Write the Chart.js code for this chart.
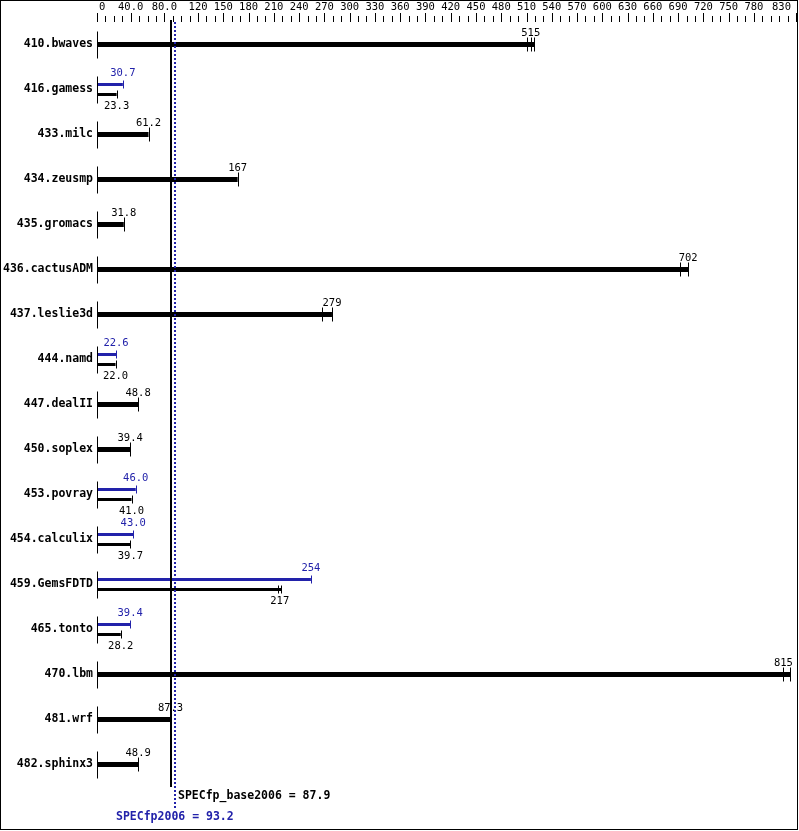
<!DOCTYPE html>
<html>
<head>
<meta charset="utf-8">
<script src="https://cdn.jsdelivr.net/npm/chart.js@4.4.1/dist/chart.umd.min.js"></script>
<style>
  html, body { margin: 0; padding: 0; background: #fff; }
  #wrap { width: 799px; height: 831px; }
</style>
</head>
<body>
<div id="wrap"><canvas id="grafica" width="799" height="831"></canvas></div>
<script>
// Datos
const benchmarks = ['410.bwaves', '416.gamess', '433.milc', '434.zeusmp', '435.gromacs',
  '436.cactusADM', '437.leslie3d', '444.namd', '447.dealII', '450.soplex', '453.povray',
  '454.calculix', '459.GemsFDTD', '465.tonto', '470.lbm', '481.wrf', '482.sphinx3'];
const baseValues = [515, 23.3, 61.2, 167, 31.8, 702, 279, 22.0, 48.8, 39.4, 41.0, 39.7, 217, 28.2, 815, 87.3, 48.9];
const peakValues = [515, 30.7, 61.2, 167, 31.8, 702, 279, 22.6, 48.8, 39.4, 46.0, 43.0, 254, 39.4, 815, 87.3, 48.9];
// marcas de cada ejecución (extremos de la barra)
const baseRuns = [[511, 515, 519], [23.3], [61.2], [167], [31.8], [692, 702], [267, 279], [22.0], [48.8], [39.4],
  [41.0], [39.7], [215, 219], [28.2], [815, 823], [87.3], [48.9]];
const peakRuns = [[511, 515, 519], [30.7], [61.2], [167], [31.8], [692, 702], [267, 279], [22.6], [48.8], [39.4],
  [46.0], [43.0], [254], [39.4], [815, 823], [87.3], [48.9]];
const tickLabels = [0, 40, 80, 120, 150, 180, 210, 240, 270, 300, 330, 360, 390, 420, 450, 480, 510,
  540, 570, 600, 630, 660, 690, 720, 750, 780, 830];
const specBase = 87.9;
const specPeak = 93.2;

const AZUL = '#2222aa';
const NEGRO = '#000000';
const MONO = '"DejaVu Sans Mono", monospace';

const iguales = baseValues.map((v, i) => v === peakValues[i]);
const maxRun = runs => Math.max(...runs);

const datosUnico = benchmarks.map((b, i) => iguales[i] ? maxRun(baseRuns[i]) : null);
const datosPeak = benchmarks.map((b, i) => iguales[i] ? null : maxRun(peakRuns[i]));
const datosBase = benchmarks.map((b, i) => iguales[i] ? null : maxRun(baseRuns[i]));

function formatear(v) {
  return v < 100 ? v.toFixed(1) : String(Math.round(v));
}

// Plugin para marcas, etiquetas, líneas de referencia y marco
const extras = {
  id: 'extras',
  afterDraw(chart) {
    const ctx = chart.ctx;
    const x = chart.scales.x;
    const y = chart.scales.y;
    ctx.save();

    // marcas del eje superior
    ctx.strokeStyle = NEGRO;
    ctx.lineWidth = 1;
    for (let v = 0; v <= 830; v += 10) {
      const px = Math.round(x.getPixelForValue(v)) + 0.5;
      const mayor = tickLabels.includes(v);
      ctx.beginPath();
      ctx.moveTo(px, mayor ? 13 : 16);
      ctx.lineTo(px, 22);
      ctx.stroke();
    }

    // etiquetas del eje superior
    ctx.font = '10.5px ' + MONO;
    ctx.textBaseline = 'middle';
    ctx.fillStyle = NEGRO;
    tickLabels.forEach((v, k) => {
      const txt = (v === 40 || v === 80) ? v.toFixed(1) : String(v);
      const px = x.getPixelForValue(v);
      if (k === 0) {
        ctx.textAlign = 'left';
        ctx.fillText(txt, px + 2, 7);
      } else if (k === tickLabels.length - 1) {
        ctx.textAlign = 'right';
        ctx.fillText(txt, px - 5, 7);
      } else {
        ctx.textAlign = 'center';
        ctx.fillText(txt, px, 7);
      }
    });

    // segmentos del eje en cada fila
    const x0 = Math.round(x.getPixelForValue(0)) + 0.5;
    benchmarks.forEach((b, i) => {
      const cy = y.getPixelForValue(i);
      ctx.beginPath();
      ctx.moveTo(x0, cy - 13);
      ctx.lineTo(x0, cy + 14);
      ctx.stroke();
    });

    // marcas de ejecuciones y etiquetas de valor
    ctx.textAlign = 'center';
    benchmarks.forEach((b, i) => {
      const cy = y.getPixelForValue(i);
      const dibujarRuns = (runs, yc, color, h) => {
        ctx.strokeStyle = color;
        ctx.lineWidth = 1;
        runs.forEach(r => {
          const px = Math.round(x.getPixelForValue(r)) + 0.5;
          ctx.beginPath();
          ctx.moveTo(px, yc - h);
          ctx.lineTo(px, yc + h);
          ctx.stroke();
        });
      };
      if (iguales[i]) {
        dibujarRuns(baseRuns[i], cy, NEGRO, 7);
        ctx.fillStyle = NEGRO;
        ctx.fillText(formatear(baseValues[i]), x.getPixelForValue(baseValues[i]), cy - 11);
      } else {
        dibujarRuns(peakRuns[i], cy - 5, AZUL, 4);
        dibujarRuns(baseRuns[i], cy + 5, NEGRO, 4);
        ctx.fillStyle = AZUL;
        ctx.fillText(formatear(peakValues[i]), x.getPixelForValue(peakValues[i]), cy - 16);
        ctx.fillStyle = NEGRO;
        ctx.fillText(formatear(baseValues[i]), x.getPixelForValue(baseValues[i]), cy + 17);
      }
    });

    // línea base (sólida) y línea peak (punteada)
    const xb = Math.round(x.getPixelForValue(specBase));
    ctx.fillStyle = NEGRO;
    ctx.fillRect(xb - 1, 20, 2, 767);
    const xp = Math.round(x.getPixelForValue(specPeak));
    ctx.fillStyle = AZUL;
    for (let py = 22; py < 808; py += 4) {
      ctx.fillRect(xp - 1, py, 2, 2);
    }

    ctx.font = 'bold 11.5px ' + MONO;
    ctx.textAlign = 'left';
    ctx.fillStyle = NEGRO;
    ctx.fillText('SPECfp_base2006 = ' + specBase.toFixed(1), xb + 7, 796);
    ctx.fillStyle = AZUL;
    ctx.fillText('SPECfp2006 = ' + specPeak.toFixed(1), 116, 817);

    // marco
    ctx.strokeStyle = NEGRO;
    ctx.lineWidth = 1;
    ctx.strokeRect(0.5, 0.5, 797, 829);
    ctx.restore();
  }
};

const ctx = document.getElementById('grafica').getContext('2d');
window.grafica = new Chart(ctx, {
  type: 'bar',
  data: {
    labels: benchmarks,
    datasets: [
      { label: 'unico', data: datosUnico, backgroundColor: NEGRO, barPercentage: 0.25, categoryPercentage: 20 / 45 },
      { label: 'peak', data: datosPeak, backgroundColor: AZUL, barPercentage: 0.3, categoryPercentage: 20 / 45 },
      { label: 'base', data: datosBase, backgroundColor: NEGRO, barPercentage: 0.3, categoryPercentage: 20 / 45 }
    ]
  },
  plugins: [extras],
  options: {
    indexAxis: 'y',
    responsive: false,
    animation: false,
    skipNull: true,
    layout: { padding: { left: 0, right: 3, top: 0, bottom: 44 } },
    plugins: { legend: { display: false }, tooltip: { enabled: false } },
    scales: {
      x: {
        position: 'top',
        min: 0,
        max: 830,
        afterFit(scale) { scale.height = 22; },
        grid: { display: false, drawTicks: false },
        border: { display: false },
        ticks: { display: false }
      },
      y: {
        afterFit(scale) { scale.width = 97; },
        grid: { display: false, drawTicks: false },
        border: { display: false },
        ticks: {
          padding: 4,
          color: NEGRO,
          font: { family: MONO, size: 11.5, weight: 'bold' }
        }
      }
    }
  }
});
</script>
</body>
</html>
